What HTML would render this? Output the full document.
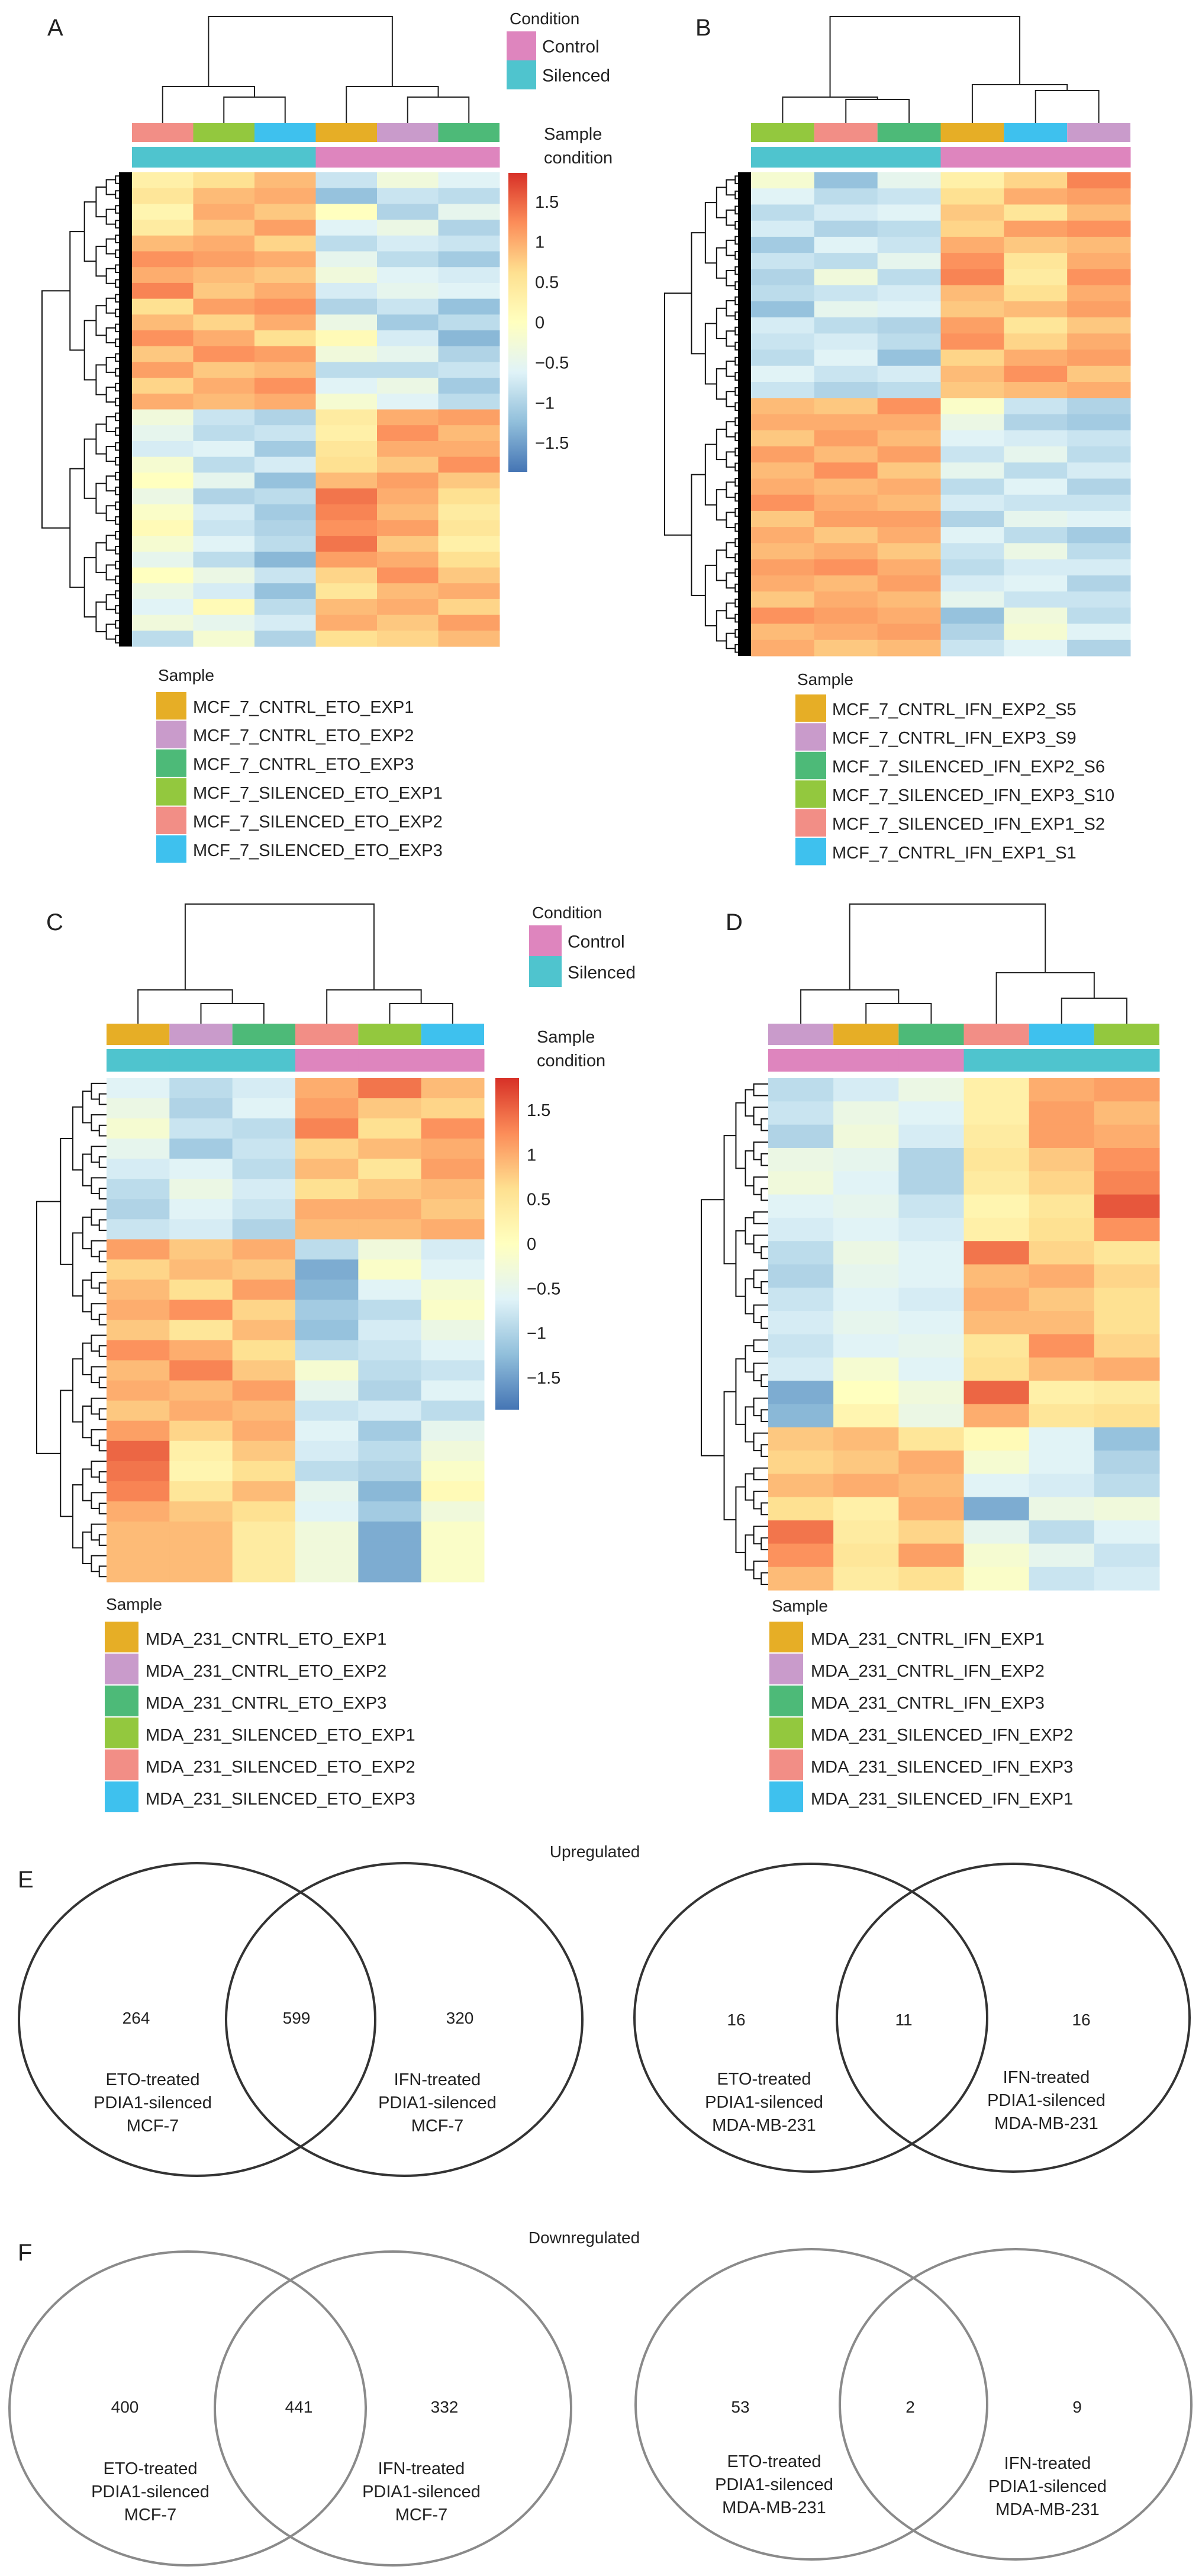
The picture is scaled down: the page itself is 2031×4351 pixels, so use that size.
<!DOCTYPE html>
<html><head><meta charset="utf-8">
<style>
html,body{margin:0;padding:0;background:#fff;}
svg{display:block;font-family:"Liberation Sans",sans-serif;}
</style></head>
<body>
<svg id="fig" width="2031" height="4351" viewBox="0 0 2031 4351" xmlns="http://www.w3.org/2000/svg"></svg>
<script>
// ---------- DATA ----------
const colorScaleTicks = [1.5, 1, 0.5, 0, -0.5, -1, -1.5];
const colorScaleLabels = ["1.5", "1", "0.5", "0", "\u22120.5", "\u22121", "\u22121.5"];

const sampleColorsA = ["#F28E86","#93C83E","#3EC1EE","#E6AE26","#C99BCB","#4DBA78"];
const conditionA = ["S","S","S","C","C","C"];
const legendA = ["MCF_7_CNTRL_ETO_EXP1","MCF_7_CNTRL_ETO_EXP2","MCF_7_CNTRL_ETO_EXP3","MCF_7_SILENCED_ETO_EXP1","MCF_7_SILENCED_ETO_EXP2","MCF_7_SILENCED_ETO_EXP3"];
const legendColorsA = ["#E6AE26","#C99BCB","#4DBA78","#93C83E","#F28E86","#3EC1EE"];
const valuesA = [
[0.3,0.6,0.9,-0.8,-0.3,-0.6],[0.5,0.9,1.0,-1.2,-0.8,-0.9],[0.2,1.0,0.8,0.0,-1.0,-0.5],
[0.4,0.8,1.1,-0.6,-0.4,-1.0],[0.9,1.0,0.7,-0.9,-0.7,-0.8],[1.2,1.1,1.0,-0.5,-0.9,-1.1],
[1.0,0.9,0.8,-0.3,-0.6,-0.7],[1.3,0.8,1.0,-0.7,-0.5,-0.6],[0.6,1.1,1.2,-1.0,-0.8,-1.2],
[0.9,0.7,1.0,-0.4,-1.1,-0.9],[1.2,1.0,0.6,0.1,-0.7,-1.3],[0.8,1.2,1.1,-0.3,-0.5,-1.0],
[1.1,0.8,0.9,-0.9,-0.9,-0.8],[0.7,1.0,1.2,-0.6,-0.4,-1.1],[1.0,0.9,1.0,-0.2,-0.6,-0.9],
[-0.3,-0.8,-1.0,0.4,1.0,1.1],[-0.5,-0.9,-0.8,0.3,1.2,0.9],[-0.7,-0.6,-1.1,0.5,1.0,1.0],
[-0.2,-0.9,-0.7,0.6,0.8,1.2],[0.0,-0.5,-1.2,0.9,1.1,0.8],[-0.4,-1.0,-0.9,1.4,1.0,0.6],
[-0.1,-0.7,-1.1,1.3,0.9,0.4],[0.1,-0.8,-1.0,1.2,1.1,0.5],[-0.2,-0.6,-0.9,1.4,0.8,0.3],
[-0.5,-0.9,-1.3,1.1,1.0,0.6],[0.0,-0.4,-0.8,0.7,1.2,0.8],[-0.4,-0.7,-1.2,0.5,0.9,1.0],
[-0.6,0.1,-0.9,0.9,1.0,0.7],[-0.3,-0.5,-0.7,1.0,0.8,1.1],[-0.9,-0.2,-1.0,0.6,0.7,0.9]];

const sampleColorsB = ["#93C83E","#F28E86","#4DBA78","#E6AE26","#3EC1EE","#C99BCB"];
const conditionB = ["S","S","S","C","C","C"];
const legendB = ["MCF_7_CNTRL_IFN_EXP2_S5","MCF_7_CNTRL_IFN_EXP3_S9","MCF_7_SILENCED_IFN_EXP2_S6","MCF_7_SILENCED_IFN_EXP3_S10","MCF_7_SILENCED_IFN_EXP1_S2","MCF_7_CNTRL_IFN_EXP1_S1"];
const legendColorsB = ["#E6AE26","#C99BCB","#4DBA78","#93C83E","#F28E86","#3EC1EE"];
const valuesB = [
[-0.2,-1.2,-0.5,0.3,0.7,1.3],[-0.6,-0.9,-0.8,0.6,1.0,1.1],[-0.9,-0.7,-0.6,0.8,0.5,0.9],
[-0.7,-1.0,-0.9,0.7,1.1,1.2],[-1.1,-0.6,-0.8,1.0,0.8,0.9],[-0.8,-0.9,-0.5,1.2,0.5,1.0],
[-1.0,-0.3,-0.9,1.3,0.4,1.2],[-0.9,-0.8,-0.7,0.9,0.6,1.0],[-1.2,-0.5,-0.6,0.8,0.9,1.1],
[-0.7,-0.9,-1.0,1.1,0.5,0.8],[-0.8,-0.7,-0.9,1.2,0.7,1.0],[-0.9,-0.6,-1.2,0.7,1.0,1.1],
[-0.6,-0.8,-0.7,0.9,1.2,0.8],[-0.8,-1.0,-0.9,0.8,0.9,1.0],
[0.9,0.8,1.2,-0.1,-0.8,-1.0],[1.0,1.0,1.0,-0.4,-1.0,-1.1],[0.8,1.1,0.9,-0.6,-0.7,-0.8],
[1.1,0.9,1.1,-0.8,-0.5,-0.9],[0.9,1.2,0.8,-0.5,-0.9,-0.7],[1.0,0.9,1.0,-0.9,-0.6,-1.0],
[1.2,1.0,0.9,-0.7,-0.8,-0.8],[0.8,1.1,1.1,-1.0,-0.5,-0.6],[1.0,0.8,1.0,-0.6,-0.9,-1.1],
[0.9,1.0,0.8,-0.8,-0.4,-0.9],[1.1,1.2,1.0,-0.9,-0.7,-0.7],[1.0,0.9,1.1,-0.7,-0.6,-1.0],
[0.8,1.0,0.9,-0.5,-0.8,-0.8],[1.2,1.1,1.0,-1.2,-0.3,-0.9],[0.9,1.0,1.1,-1.0,-0.2,-0.6],
[1.0,0.8,0.9,-0.8,-0.6,-1.0]];

const sampleColorsC = ["#E6AE26","#C99BCB","#4DBA78","#F28E86","#93C83E","#3EC1EE"];
const conditionC = ["S","S","S","C","C","C"];
const legendC = ["MDA_231_CNTRL_ETO_EXP1","MDA_231_CNTRL_ETO_EXP2","MDA_231_CNTRL_ETO_EXP3","MDA_231_SILENCED_ETO_EXP1","MDA_231_SILENCED_ETO_EXP2","MDA_231_SILENCED_ETO_EXP3"];
const legendColorsC = ["#E6AE26","#C99BCB","#4DBA78","#93C83E","#F28E86","#3EC1EE"];
const valuesC = [
[-0.6,-0.9,-0.7,1.0,1.4,0.9],[-0.4,-1.0,-0.6,1.1,0.8,0.7],[-0.2,-0.8,-0.9,1.3,0.6,1.2],
[-0.5,-1.1,-0.8,0.7,0.9,1.0],[-0.7,-0.6,-0.9,0.9,0.5,1.1],[-0.9,-0.4,-0.7,0.6,0.8,0.9],
[-1.0,-0.6,-0.8,1.0,1.0,0.8],[-0.8,-0.7,-1.0,0.9,0.9,1.0],
[1.1,0.8,1.0,-0.9,-0.3,-0.7],[0.7,0.9,0.8,-1.4,-0.1,-0.6],[0.9,0.6,1.1,-1.3,-0.6,-0.2],
[1.0,1.2,0.7,-1.1,-0.9,-0.1],[0.8,0.5,0.9,-1.2,-0.7,-0.4],[1.2,1.0,0.6,-0.9,-0.8,-0.6],
[0.9,1.3,0.8,-0.2,-0.9,-0.8],[1.0,0.9,1.1,-0.5,-1.0,-0.6],[0.8,1.0,0.9,-0.8,-0.7,-0.9],
[1.1,0.7,1.0,-0.6,-1.1,-0.5],[1.5,0.3,0.8,-0.7,-0.9,-0.3],[1.4,0.2,0.6,-0.9,-1.0,-0.1],
[1.3,0.5,0.9,-0.5,-1.3,0.1],[1.0,0.8,0.6,-0.6,-1.1,-0.3],[0.9,0.9,0.4,-0.3,-1.4,-0.1],
[0.9,0.9,0.4,-0.3,-1.4,-0.1],[0.9,0.9,0.4,-0.3,-1.4,-0.1]];

const sampleColorsD = ["#C99BCB","#E6AE26","#4DBA78","#F28E86","#3EC1EE","#93C83E"];
const conditionD = ["C","C","C","S","S","S"];
const legendD = ["MDA_231_CNTRL_IFN_EXP1","MDA_231_CNTRL_IFN_EXP2","MDA_231_CNTRL_IFN_EXP3","MDA_231_SILENCED_IFN_EXP2","MDA_231_SILENCED_IFN_EXP3","MDA_231_SILENCED_IFN_EXP1"];
const legendColorsD = ["#E6AE26","#C99BCB","#4DBA78","#93C83E","#F28E86","#3EC1EE"];
const valuesD = [
[-0.9,-0.7,-0.4,0.3,1.0,1.1],[-0.8,-0.4,-0.6,0.3,1.1,0.9],[-1.0,-0.3,-0.7,0.4,1.1,1.0],
[-0.4,-0.5,-1.0,0.5,0.8,1.2],[-0.3,-0.6,-1.0,0.4,0.7,1.3],[-0.6,-0.5,-0.8,0.2,0.5,1.6],
[-0.7,-0.6,-0.7,0.3,0.6,1.2],[-0.9,-0.4,-0.6,1.4,0.7,0.5],[-1.0,-0.5,-0.6,0.9,1.0,0.7],
[-0.8,-0.6,-0.7,1.0,0.8,0.6],[-0.7,-0.5,-0.6,0.9,0.9,0.6],[-0.8,-0.6,-0.5,0.5,1.2,0.7],
[-0.7,-0.2,-0.6,0.6,0.9,1.0],[-1.4,0.0,-0.3,1.5,0.3,0.4],[-1.3,0.2,-0.4,1.0,0.5,0.6],
[0.8,0.9,0.5,0.1,-0.6,-1.2],[0.7,0.8,1.0,-0.2,-0.6,-1.0],[0.9,1.0,0.9,-0.6,-0.7,-0.9],
[0.6,0.3,1.0,-1.4,-0.4,-0.3],[1.4,0.4,0.7,-0.5,-0.9,-0.6],[1.2,0.5,1.1,-0.2,-0.5,-0.8],
[0.9,0.4,0.6,-0.1,-0.8,-0.7]];

// Venn data
const vennUpMCF = [264, 599, 320];
const vennUpMDA = [16, 11, 16];
const vennDownMCF = [400, 441, 332];
const vennDownMDA = [53, 2, 9];

// ---------- HELPERS ----------
const svg = document.getElementById('fig');
const NS = "http://www.w3.org/2000/svg";
function mk(tag, attrs, parent) {
  const e = document.createElementNS(NS, tag);
  for (const k in attrs) e.setAttribute(k, attrs[k]);
  (parent || svg).appendChild(e);
  return e;
}
const stops = [[-1.86,[69,117,180]],[-1.24,[145,191,219]],[-0.62,[224,243,248]],[0,[255,255,191]],[0.62,[254,224,144]],[1.24,[252,141,89]],[1.86,[215,48,39]]];
function colorOf(v) {
  v = Math.max(-1.86, Math.min(1.86, v));
  for (let i = 0; i < stops.length - 1; i++) {
    const [a, ca] = stops[i], [b, cb] = stops[i + 1];
    if (v <= b) {
      const t = (v - a) / (b - a);
      const c = ca.map((x, j) => Math.round(x + (cb[j] - x) * t));
      return `rgb(${c[0]},${c[1]},${c[2]})`;
    }
  }
  return "rgb(215,48,39)";
}
function txt(x, y, s, size, anchor, name, fill, parent) {
  const t = mk('text', {x: x, y: y, 'font-size': size, 'text-anchor': anchor || 'start', fill: fill || '#222'}, parent);
  
  
  t.textContent = s;
  return t;
}

function drawLeftDendro(g, x0, x1, y0, y1, n, depth) {
  // balanced binary tree over n leaves; level heights from tree depth
  const rowH = (y1 - y0) / n;
  const maxD = Math.ceil(Math.log2(n));
  function rec(lo, hi, d) {
    if (hi - lo <= 1) return {y: y0 + (lo + 0.5) * rowH, x: x1};
    const mid = Math.floor((lo + hi) / 2);
    const a = rec(lo, mid, d + 1), b = rec(mid, hi, d + 1);
    const frac = Math.pow(d / maxD, 0.6);
    const x = x0 + (x1 - x0) * frac * (depth ? 1 : 1);
    const p = mk('path', {d: `M${a.x},${a.y}H${x}V${b.y}H${b.x}`, fill: 'none', stroke: '#111', 'stroke-width': 2}, g);
    
    
    return {x: x, y: (a.y + b.y) / 2};
  }
  rec(0, n, 0);
}

function panel(cfg) {
  const g = mk('g', {});
  
  
  const {hx0, hx1, hy0, hy1, values, colors, cond} = cfg;
  const nc = colors.length, nr = values.length;
  const cw = (hx1 - hx0) / nc, rh = (hy1 - hy0) / nr;
  // heatmap cells
  const hg = mk('g', {}, g);
  
  
  values.forEach((row, r) => row.forEach((v, c) => {
    const el = mk('rect', {x: hx0 + c * cw, y: hy0 + r * rh, width: cw + 0.5, height: rh + 0.5, fill: colorOf(v)}, hg);
    
    
  }));
  // annotation bars
  colors.forEach((col, c) => {
    const el = mk('rect', {x: hx0 + c * cw, y: cfg.sy0, width: cw, height: cfg.sy1 - cfg.sy0, fill: col}, g);
    
    
    const e2 = mk('rect', {x: hx0 + c * cw, y: cfg.cy0, width: cw + 0.5, height: cfg.cy1 - cfg.cy0, fill: cond[c] === 'C' ? '#DE85BE' : '#4FC4CE'}, g);
    
    
  });
  // top dendrogram: ((c0,(c1,c2)),(c3,(c4,c5)))
  const cx = i => hx0 + (i + 0.5) * cw;
  const [root, sub, inner, leaf] = cfg.dy;
  const lines = [];
  function clus(a, b, c, yS, yI) {
    const m = (cx(b) + cx(c)) / 2;
    lines.push(`M${cx(b)},${leaf}V${yI}H${cx(c)}V${leaf}`);
    lines.push(`M${cx(a)},${leaf}V${yS}H${m}V${yI}`);
    return (cx(a) + m) / 2;
  }
  const L = clus(0, 1, 2, sub, inner), R = clus(3, 4, 5, cfg.dy2 ? cfg.dy2[0] : sub, cfg.dy2 ? cfg.dy2[1] : inner);
  lines.push(`M${L},${sub}V${root}H${R}V${cfg.dy2 ? cfg.dy2[0] : sub}`);
  const td = mk('path', {d: lines.join(''), fill: 'none', stroke: '#222', 'stroke-width': 2}, g);
  
  
  // left dendrogram
  const ld = mk('g', {}, g);
  
  
  drawLeftDendro(ld, cfg.lx0, hx0, hy0, hy1, cfg.leaves);
  if (cfg.blob) {
    const b = mk('rect', {x: hx0 - cfg.blob, y: hy0, width: cfg.blob, height: hy1 - hy0, fill: '#000'}, ld);
    
    
  }
  // panel letter
  txt(cfg.letter[1], cfg.letter[2], cfg.letter[0], 40, 'start', 'panel-label', '#222', g);
  // sample legend
  txt(cfg.lg.x0, cfg.lg.y0, 'Sample', 28, 'start', 'sample-legend-title', '#222', g);
  cfg.legendNames.forEach((nm, i) => {
    const y = cfg.lg.ry + i * cfg.lg.rh;
    const r = mk('rect', {x: cfg.lg.sx, y: y, width: cfg.lg.sw, height: cfg.lg.rh - 2, fill: cfg.legendColors[i]}, g);
    
    
    txt(cfg.lg.tx, y + cfg.lg.rh * 0.72, nm, 29, 'start', 'legend-entry', '#222', g);
  });
  // condition legend + colorbar
  if (cfg.condLeg) {
    const c = cfg.condLeg;
    txt(c.x, c.y, 'Condition', 28, 'start', 'condition-legend-title', '#222', g);
    const r1 = mk('rect', {x: c.x - 5, y: c.y + 12, width: c.sw, height: c.sh, fill: '#DE85BE'}, g);
    
    
    const r2 = mk('rect', {x: c.x - 5, y: c.y + 12 + c.sh, width: c.sw, height: c.sh, fill: '#4FC4CE'}, g);
    
    
    txt(c.x - 5 + c.sw + 10, c.y + 12 + c.sh * 0.72, 'Control', 30, 'start', 'legend-control', '#222', g);
    txt(c.x - 5 + c.sw + 10, c.y + 12 + c.sh * 1.72, 'Silenced', 30, 'start', 'legend-silenced', '#222', g);
    txt(c.scx, c.scy, 'Sample', 29, 'start', 'sample-condition-label', '#222', g);
    txt(c.scx, c.scy + 40, 'condition', 29, 'start', 'sample-condition-label', '#222', g);
    const cb = cfg.cbar;
    const grad = mk('defs', {}, g);
    const lg = mk('linearGradient', {id: 'grad' + cfg.name, x1: 0, y1: 0, x2: 0, y2: 1}, grad);
    for (let i = 0; i <= 12; i++) {
      const v = 1.86 - 3.72 * i / 12;
      mk('stop', {offset: (i / 12), 'stop-color': colorOf(v)}, lg);
    }
    const bar = mk('rect', {x: cb.x, y: cb.y0, width: cb.w, height: cb.y1 - cb.y0, fill: `url(#grad${cfg.name})`}, g);
    
    
    const ys = v => cb.y0 + (1.86 - v) / 3.72 * (cb.y1 - cb.y0);
    colorScaleTicks.forEach((v, i) => {
      txt(cb.x + cb.w + 13, ys(v) + 10, colorScaleLabels[i], 29, 'start', 'color-scale-tick', '#222', g);
    });
  }
}

panel({name: 'panel-a', hx0: 223, hx1: 844, hy0: 291, hy1: 1092, values: valuesA, colors: sampleColorsA, cond: conditionA,
  sy0: 208, sy1: 240, cy0: 248, cy1: 283, dy: [28, 146, 164, 208], lx0: 71, leaves: 128, blob: 22,
  letter: ['A', 80, 60], legendNames: legendA, legendColors: legendColorsA,
  lg: {x0: 267, y0: 1150, sx: 264, sw: 51, ry: 1169, rh: 48.4, tx: 326},
  condLeg: {x: 861, y: 41, sw: 50, sh: 49, scx: 919, scy: 236},
  cbar: {x: 859, w: 32, y0: 292, y1: 797}});
panel({name: 'panel-b', hx0: 1269, hx1: 1910, hy0: 291, hy1: 1108, values: valuesB, colors: sampleColorsB, cond: conditionB,
  sy0: 208, sy1: 240, cy0: 248, cy1: 283, dy: [28, 164, 168, 208], dy2: [143, 153], lx0: 1123, leaves: 128, blob: 22,
  letter: ['B', 1175, 60], legendNames: legendB, legendColors: legendColorsB,
  lg: {x0: 1347, y0: 1157, sx: 1344, sw: 52, ry: 1173, rh: 48.4, tx: 1406}});
panel({name: 'panel-c', hx0: 180, hx1: 818, hy0: 1821, hy1: 2672, values: valuesC, colors: sampleColorsC, cond: conditionC,
  sy0: 1729, sy1: 1765, cy0: 1772, cy1: 1810, dy: [1527, 1672, 1695, 1729], lx0: 62, leaves: 48, blob: 0,
  letter: ['C', 78, 1571], legendNames: legendC, legendColors: legendColorsC,
  lg: {x0: 179, y0: 2719, sx: 177, sw: 57, ry: 2739, rh: 54, tx: 246},
  condLeg: {x: 899, y: 1551, sw: 55, sh: 52, scx: 907, scy: 1761},
  cbar: {x: 837, w: 40, y0: 1821, y1: 2381}});
panel({name: 'panel-d', hx0: 1298, hx1: 1959, hy0: 1821, hy1: 2686, values: valuesD, colors: sampleColorsD, cond: conditionD,
  sy0: 1729, sy1: 1765, cy0: 1772, cy1: 1810, dy: [1527, 1672, 1695, 1729], dy2: [1643, 1686], lx0: 1185, leaves: 44, blob: 0,
  letter: ['D', 1226, 1571], legendNames: legendD, legendColors: legendColorsD,
  lg: {x0: 1304, y0: 2722, sx: 1300, sw: 57, ry: 2739, rh: 54, tx: 1370}});

// ---------- VENNS ----------
function venn(name, circles, nums, numXs, numY, labels, color) {
  const g = mk('g', {});
  
  
  circles.forEach(c => {
    const e = mk('ellipse', {cx: c[0], cy: c[1], rx: c[2], ry: c[3], fill: 'none', stroke: color, 'stroke-width': 4}, g);
    
    
  });
  nums.forEach((n, i) => txt(numXs[i], numY + 10, String(n), 28, 'middle', 'venn-count', '#222', g));
  labels.forEach(l => {
    l.lines.forEach((s, j) => txt(l.x, l.y + j * 39 + 11, s, 29, 'middle', 'venn-set-label', '#222', g));
  });
}
txt(1005, 3137, 'Upregulated', 28, 'middle', 'upregulated-title');
txt(30, 3188, 'E', 40, 'start', 'panel-label');
venn('venn-up-mcf7', [[333, 3411, 301, 264], [683, 3411, 301, 264]], vennUpMCF, [230, 501, 777], 3408,
  [{x: 258, y: 3511, lines: ['ETO-treated', 'PDIA1-silenced', 'MCF-7']}, {x: 739, y: 3511, lines: ['IFN-treated', 'PDIA1-silenced', 'MCF-7']}], '#333');
venn('venn-up-mda', [[1370, 3408, 298, 260], [1712, 3408, 298, 260]], vennUpMDA, [1244, 1527, 1827], 3411,
  [{x: 1291, y: 3510, lines: ['ETO-treated', 'PDIA1-silenced', 'MDA-MB-231']}, {x: 1768, y: 3507, lines: ['IFN-treated', 'PDIA1-silenced', 'MDA-MB-231']}], '#333');
txt(987, 3789, 'Downregulated', 28, 'middle', 'downregulated-title');
txt(30, 3818, 'F', 40, 'start', 'panel-label');
venn('venn-down-mcf7', [[317, 4068, 301, 265], [664, 4068, 301, 265]], vennDownMCF, [211, 505, 751], 4065,
  [{x: 254, y: 4168, lines: ['ETO-treated', 'PDIA1-silenced', 'MCF-7']}, {x: 712, y: 4168, lines: ['IFN-treated', 'PDIA1-silenced', 'MCF-7']}], '#8a8a8a');
venn('venn-down-mda', [[1371, 4061, 297, 262], [1716, 4061, 297, 262]], vennDownMDA, [1251, 1538, 1820], 4065,
  [{x: 1308, y: 4156, lines: ['ETO-treated', 'PDIA1-silenced', 'MDA-MB-231']}, {x: 1770, y: 4159, lines: ['IFN-treated', 'PDIA1-silenced', 'MDA-MB-231']}], '#8a8a8a');
</script>
</body></html>
